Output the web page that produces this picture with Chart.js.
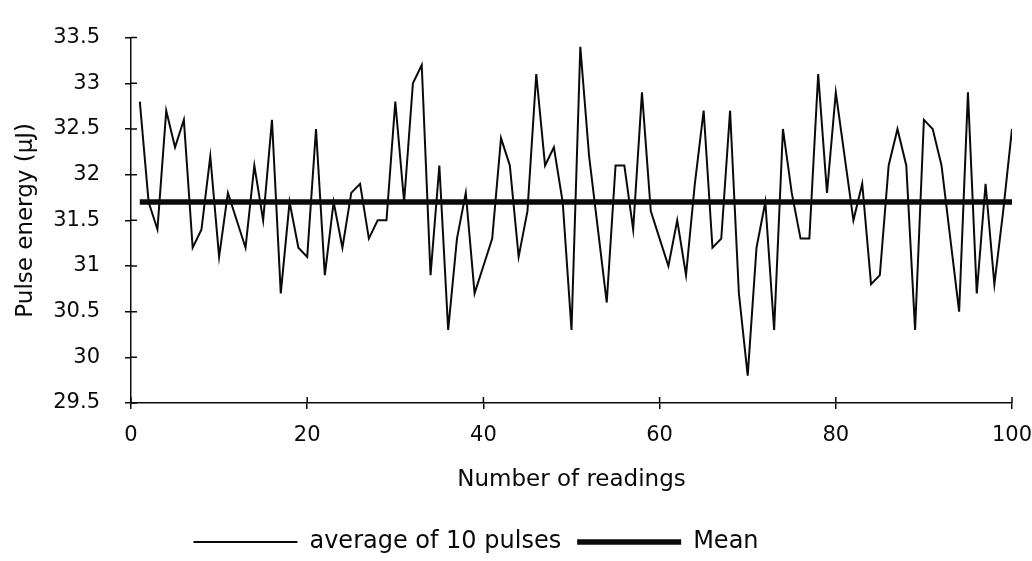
<!DOCTYPE html>
<html>
<head>
<meta charset="utf-8">
<script src="https://cdn.jsdelivr.net/npm/chart.js@4.4.1/dist/chart.umd.min.js"></script>
<style>
  html, body { margin: 0; padding: 0; background: #fff; }
  #wrap { width: 1032px; height: 561px; }
</style>
</head>
<body>
<div id="wrap"><canvas id="pulseChart"></canvas></div>
<script>
// reading index 1..100
var readingNumbers = Array.from({ length: 100 }, function(_, i) { return i + 1; });

// average of 10 pulses
var pulseEnergy = [
    32.8, 31.7, 31.4, 32.7, 32.3, 32.6, 31.2, 31.4, 32.2, 31.1,
    31.8, 31.5, 31.2, 32.1, 31.5, 32.6, 30.7, 31.7, 31.2, 31.1,
    32.5, 30.9, 31.7, 31.2, 31.8, 31.9, 31.3, 31.5, 31.5, 32.8,
    31.7, 33.0, 33.2, 30.9, 32.1, 30.3, 31.3, 31.8, 30.7, 31.0,
    31.3, 32.4, 32.1, 31.1, 31.6, 33.1, 32.1, 32.3, 31.7, 30.3,
    33.4, 32.2, 31.4, 30.6, 32.1, 32.1, 31.4, 32.9, 31.6, 31.3,
    31.0, 31.5, 30.9, 31.9, 32.7, 31.2, 31.3, 32.7, 30.7, 29.8,
    31.2, 31.7, 30.3, 32.5, 31.8, 31.3, 31.3, 33.1, 31.8, 32.9,
    32.2, 31.5, 31.9, 30.8, 30.9, 32.1, 32.5, 32.1, 30.3, 32.6,
    32.5, 32.1, 31.3, 30.5, 32.9, 30.7, 31.9, 30.8, 31.6, 32.5
];

var meanValue = 31.7;
var meanRange = [1, 100];

var xTicks = [0, 20, 40, 60, 80, 100];
var yTickLabels = ['29.5', '30', '30.5', '31', '31.5', '32', '32.5', '33', '33.5'];

var FONT = 'DejaVu Sans';
var INK = '#0a0a0a';

// small tick marks crossing the axes (the inner half)
var innerTicks = {
    id: 'innerTicks',
    afterDraw: function(chart) {
        var ctx = chart.ctx;
        var xs = chart.scales.x, ys = chart.scales.y;
        var area = chart.chartArea;
        ctx.save();
        ctx.strokeStyle = INK;
        ctx.lineWidth = 1.5;
        ctx.beginPath();
        ys.ticks.forEach(function(t) {
            var py = ys.getPixelForValue(t.value);
            ctx.moveTo(area.left, py);
            ctx.lineTo(area.left + 6, py);
        });
        xs.ticks.forEach(function(t) {
            var px = xs.getPixelForValue(t.value);
            ctx.moveTo(px, area.bottom);
            ctx.lineTo(px, area.bottom - 6);
        });
        ctx.stroke();
        ctx.restore();
    }
};

// legend sits a bit left of the canvas centre in the original
var legendShift = {
    id: 'legendShift',
    afterLayout: function(chart) {
        chart.legend.left -= 40;
        chart.legend.right -= 40;
    }
};

var ctx = document.getElementById('pulseChart').getContext('2d');

new Chart(ctx, {
    type: 'line',
    data: {
        datasets: [
            {
                label: 'average of 10 pulses',
                data: readingNumbers.map(function(n, i) { return { x: n, y: pulseEnergy[i] }; }),
                borderColor: INK,
                backgroundColor: INK,
                borderWidth: 2,
                pointRadius: 0,
                tension: 0,
                fill: false
            },
            {
                label: 'Mean',
                data: meanRange.map(function(n) { return { x: n, y: meanValue }; }),
                borderColor: INK,
                backgroundColor: INK,
                borderWidth: 5.5,
                pointRadius: 0,
                tension: 0,
                fill: false
            }
        ]
    },
    options: {
        responsive: true,
        maintainAspectRatio: false,
        animation: false,
        events: [],
        layout: {
            padding: { top: 25, left: 0, right: 0, bottom: 0 }
        },
        scales: {
            x: {
                type: 'linear',
                min: 0,
                max: 100,
                afterBuildTicks: function(scale) {
                    scale.ticks = xTicks.map(function(v) { return { value: v }; });
                },
                afterFit: function(scale) {
                    scale.height = 111;
                    scale.paddingLeft = 0;
                    scale.paddingRight = 20;
                },
                grid: {
                    drawOnChartArea: false,
                    drawTicks: true,
                    tickLength: 6,
                    color: INK,
                    lineWidth: 1.5
                },
                border: {
                    display: true,
                    color: INK,
                    width: 1.5
                },
                ticks: {
                    color: INK,
                    padding: 14,
                    maxRotation: 0,
                    font: { size: 21, family: FONT }
                },
                title: {
                    display: true,
                    text: 'Number of readings',
                    color: INK,
                    padding: { top: 0, bottom: 20 },
                    font: { size: 23, family: FONT }
                }
            },
            y: {
                min: 29.5,
                max: 33.5,
                afterBuildTicks: function(scale) {
                    scale.ticks = yTickLabels.map(function(s) { return { value: parseFloat(s) }; });
                },
                afterFit: function(scale) {
                    scale.width = 131;
                },
                grid: {
                    drawOnChartArea: false,
                    drawTicks: true,
                    tickLength: 6,
                    color: INK,
                    lineWidth: 1.5
                },
                border: {
                    display: true,
                    color: INK,
                    width: 1.5
                },
                ticks: {
                    color: INK,
                    padding: 25,
                    font: { size: 21, family: FONT },
                    callback: function(value, index) {
                        return yTickLabels[index];
                    }
                },
                title: {
                    display: true,
                    text: 'Pulse energy (µJ)',
                    color: INK,
                    padding: { top: 12, bottom: 0 },
                    font: { size: 23, family: FONT }
                }
            }
        },
        plugins: {
            legend: {
                display: true,
                position: 'bottom',
                maxHeight: 47,
                labels: {
                    color: INK,
                    usePointStyle: true,
                    pointStyle: 'line',
                    pointStyleWidth: 104,
                    padding: 16,
                    font: { size: 24, family: FONT }
                }
            },
            tooltip: {
                enabled: false
            }
        }
    },
    plugins: [innerTicks, legendShift]
});
</script>
</body>
</html>
